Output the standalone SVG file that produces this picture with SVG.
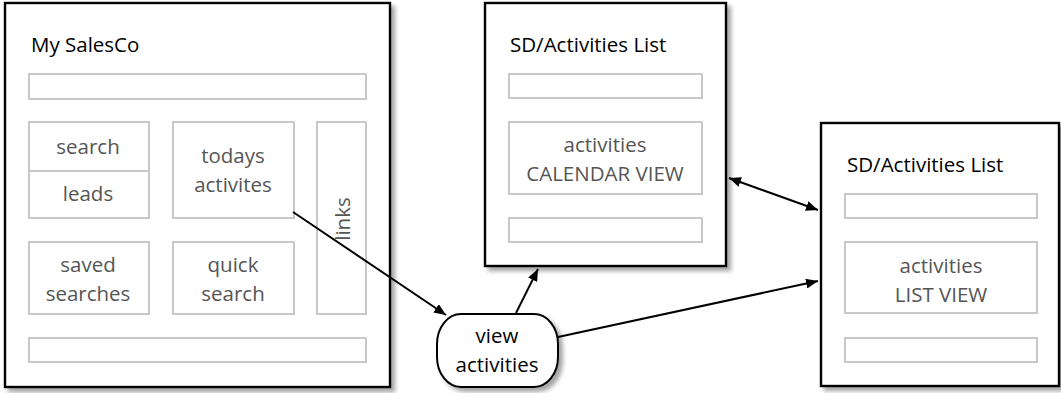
<svg xmlns="http://www.w3.org/2000/svg" width="1061" height="393" viewBox="0 0 1061 393">
<style>
.frame{fill:#fff;stroke:#000;stroke-width:2.4}
.part{fill:#fff;stroke:#c8c8c8;stroke-width:2}
.title{font-family:"Open Sans","Liberation Sans",sans-serif;font-size:20.5px;fill:#000}
.lbl{font-family:"Open Sans","Liberation Sans",sans-serif;font-size:20.5px;fill:#555;text-anchor:middle}
.nlbl{font-family:"Open Sans","Liberation Sans",sans-serif;font-size:20.5px;fill:#000;text-anchor:middle}
.conn{fill:none;stroke:#000;stroke-width:2}
</style>
<defs>
<filter id="sh" x="-10%" y="-10%" width="125%" height="125%">
<feDropShadow dx="4" dy="4" stdDeviation="2" flood-color="#000" flood-opacity="0.35"/>
</filter>
<marker id="ah" viewBox="0 0 12 10" refX="12" refY="5" markerWidth="12" markerHeight="10" markerUnits="userSpaceOnUse" orient="auto-start-reverse">
<path d="M0,0 L12,5 L0,10 Z" fill="#000"/>
</marker>
</defs>

<g id="my-salesco">
<rect class="frame" x="5" y="3" width="385" height="384" filter="url(#sh)"/>
<text class="title" x="31" y="52">My SalesCo</text>
<rect class="part" x="29" y="74" width="337" height="25"/>
<rect class="part" x="29" y="122" width="120" height="49"/>
<rect class="part" x="29" y="171" width="120" height="47"/>
<text class="lbl" x="88" y="154">search</text>
<text class="lbl" x="88" y="201">leads</text>
<rect class="part" x="173" y="122" width="121" height="96"/>
<text class="lbl" x="233" y="163">todays</text>
<text class="lbl" x="233" y="192">activites</text>
<rect class="part" x="317" y="122" width="49" height="192"/>
<text class="lbl" transform="translate(350,219) rotate(-90)">links</text>
<rect class="part" x="29" y="242" width="120" height="72"/>
<text class="lbl" x="88" y="272">saved</text>
<text class="lbl" x="88" y="301">searches</text>
<rect class="part" x="173" y="242" width="121" height="72"/>
<text class="lbl" x="233" y="272">quick</text>
<text class="lbl" x="233" y="301">search</text>
<rect class="part" x="29" y="338" width="337" height="24"/>
</g>

<g id="calendar-view">
<rect class="frame" x="485" y="3" width="241" height="263" filter="url(#sh)"/>
<text class="title" x="510" y="52">SD/Activities List</text>
<rect class="part" x="509" y="74" width="193" height="24"/>
<rect class="part" x="509" y="122" width="193" height="72"/>
<text class="lbl" x="605" y="152">activities</text>
<text class="lbl" x="605" y="181">CALENDAR VIEW</text>
<rect class="part" x="509" y="218" width="193" height="24"/>
</g>

<g id="list-view">
<rect class="frame" x="821" y="123" width="238" height="263" filter="url(#sh)"/>
<text class="title" x="847" y="172">SD/Activities List</text>
<rect class="part" x="845" y="194" width="192" height="24"/>
<rect class="part" x="845" y="242" width="192" height="71"/>
<text class="lbl" x="941" y="273">activities</text>
<text class="lbl" x="941" y="302">LIST VIEW</text>
<rect class="part" x="845" y="338" width="192" height="24"/>
</g>

<g id="view-activities">
<rect x="437" y="314" width="121" height="73" rx="24" ry="30" fill="#fff" stroke="#000" stroke-width="2" filter="url(#sh)"/>
<text class="nlbl" x="497" y="343">view</text>
<text class="nlbl" x="497" y="372">activities</text>
</g>

<g id="connectors">
<line class="conn" x1="293" y1="212" x2="446" y2="315" marker-end="url(#ah)"/>
<line class="conn" x1="516" y1="313" x2="538" y2="269" marker-end="url(#ah)"/>
<line class="conn" x1="558" y1="337" x2="818" y2="281" marker-end="url(#ah)"/>
<line class="conn" x1="729" y1="178" x2="818" y2="210" marker-start="url(#ah)" marker-end="url(#ah)"/>
</g>
</svg>
